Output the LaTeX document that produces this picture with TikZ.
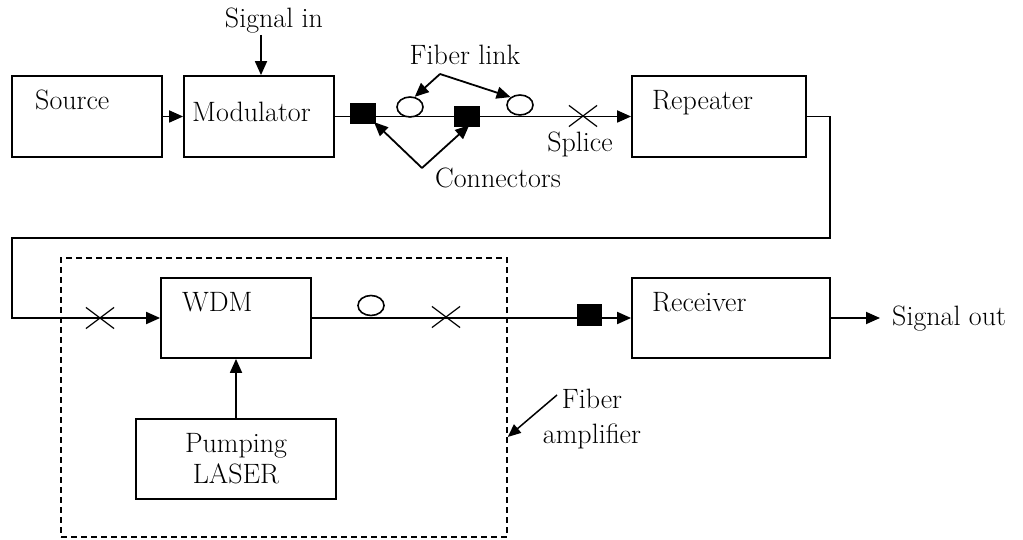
\documentclass[tikz,border=0pt]{standalone}
\usetikzlibrary{arrows.meta,shapes.misc,shapes.geometric}
\begin{document}
\begin{tikzpicture}[x=1pt,y=-1pt,
  every node/.style={font=\fontsize{28}{31}\selectfont},
  box/.style={draw,line width=1.8pt,inner sep=0pt},
  lbl/.style={anchor=base west,inner sep=0pt},
  clbl/.style={anchor=base,inner sep=0pt},
  arr/.style={line width=1.8pt,-{Triangle[length=14pt,width=12pt]}},
  circ/.style={draw,ellipse,line width=1.6pt,minimum width=26pt,minimum height=20pt,inner sep=0pt},
  sq/.style={fill=black,minimum width=26pt,minimum height=21pt,inner sep=0pt},
  splice/.style={draw,cross out,line width=1.2pt,minimum width=27pt,minimum height=20pt,inner sep=0pt},
  dashbox/.style={draw,line width=1.5pt,dash pattern=on 6pt off 4pt,inner sep=0pt}]
\useasboundingbox (0,0) rectangle (1023,540);
% boxes
\node[box,minimum width=150pt,minimum height=81pt] (src) at (87,116.5) {};
\node[box,minimum width=150pt,minimum height=81pt] (mod) at (259,116.5) {};
\node[box,minimum width=174pt,minimum height=81pt] (rep) at (719,116.5) {};
\node[box,minimum width=150pt,minimum height=80pt] (wdm) at (236,318) {};
\node[box,minimum width=200pt,minimum height=80pt,align=center] (pump) at (236,459) {Pumping\\LASER};
\node[box,minimum width=198pt,minimum height=80pt] (rec) at (731,318) {};
\node[dashbox,minimum width=446pt,minimum height=279pt] (amp) at (284,397.5) {};
% box labels
\node[lbl] (srcT) at (35,110) {Source};
\node[lbl] (modT) at (192,122) {Modulator};
\node[lbl] (repT) at (652,110) {Repeater};
\node[lbl] (wdmT) at (182,311) {WDM};
\node[lbl] (recT) at (652,311) {Receiver};
% signal in
\node[clbl] (sigin) at (274,28) {Signal in};
\coordinate (siginA) at (261,35);
\draw[arr] (siginA) -- (siginA |- mod.north);
% source -> modulator
\draw[arr] (src.east) -- (mod.west);
% upper fiber line
\draw[arr] (mod.east) -- (rep.west);
\node[sq] (conn1) at (363,113.5) {};
\node[sq] (conn2) at (467,116.5) {};
\node[circ] (circ1) at (410,107) {};
\node[circ] (circ2) at (520,105) {};
\node[splice] (sp1) at (583,116) {};
\node[clbl] (fiberlink) at (465,65) {Fiber link};
\coordinate (fl) at (440,74);
\draw[arr] (fl) -- (circ1.65);
\draw[arr] (fl) -- (circ2.140);
\node[clbl] (splT) at (580,152) {Splice};
\node[clbl] (connT) at (498,188) {Connectors};
\coordinate (cn) at (422,168);
\draw[arr,shorten >=-3pt] (cn) -- (conn1.south east);
\draw[arr,shorten >=-3pt] (cn) -- (conn2.south);
% repeater -> wdm
\coordinate (c1) at (830,238);
\coordinate (c2) at (12,238);
\draw[arr,line join=miter] (rep.east) -| (c1) -- (c2) |- (wdm.west);
\node[splice] (sp2) at (100,318) {};
% pump -> wdm
\draw[arr] (pump.north) -- (wdm.south);
% lower fiber line
\draw[arr] (wdm.east) -- (rec.west);
\node[circ] (circ3) at (371,305.5) {};
\node[splice] (sp3) at (446,317) {};
\node[sq,minimum width=25pt,minimum height=22pt] (conn3) at (589.5,315) {};
% output
\coordinate (out) at (880,318);
\draw[arr] (rec.east) -- (out);
\node[lbl] (sigout) at (892,325) {Signal out};
% fiber amplifier label
\node[clbl] (faT1) at (592,408) {Fiber};
\node[clbl] (faT2) at (592,443) {amplifier};
\coordinate (fa) at (557,395);
\draw[line width=1.5pt,-{Triangle[length=13pt,width=11pt]}] (fa) -- (amp.-10.8);
\end{tikzpicture}
\end{document}
